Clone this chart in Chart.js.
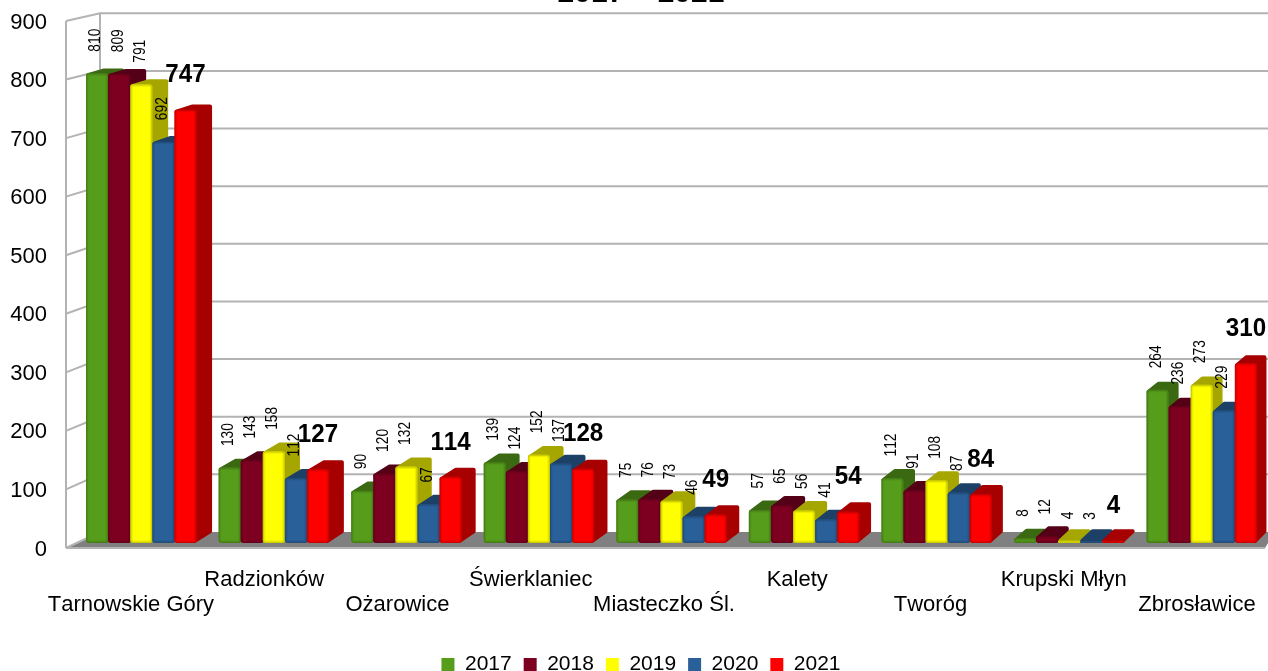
<!DOCTYPE html>
<html>
<head>
<meta charset="utf-8">
<style>html,body{margin:0;padding:0;background:#fff}canvas{display:block}</style>
<script src="https://cdn.jsdelivr.net/npm/chart.js@4"></script>
</head>
<body>
<canvas id="c" width="1268" height="671"></canvas>
<script>
const categories = ["Tarnowskie Góry","Radzionków","Ożarowice","Świerklaniec","Miasteczko Śl.","Kalety","Tworóg","Krupski Młyn","Zbrosławice"];
const years = ["2017","2018","2019","2020","2021"];
const values2017 = [810,130,90,139,75,57,112,8,264];
const values2018 = [809,143,120,124,76,65,91,12,236];
const values2019 = [791,158,132,152,73,56,108,4,273];
const values2020 = [692,112,67,137,46,41,87,3,229];
const values2021 = [747,127,114,128,49,54,84,4,310];
const yTickStep = 100;
const yTickMax = 900;
const chartTitle = "2017 – 2021";
const frontColors = ["#579d1c","#7e0021","#ffff00","#2a6099","#ff0000"];
const sideColors  = ["#3a6912","#540016","#a6a600","#1c4066","#a60000"];

const series = [values2017,values2018,values2019,values2020,values2021];
const FONT = '"Liberation Sans", Arial, sans-serif';
const GRID = "#b3b3b3";
const FLOOR = "#808080";

// perspective helpers: depth of the 3D box at a given screen position
const depthX = x => 16.1 - 0.0057 * (x - 100);
const riseY  = y => 4 + 0.0105 * y;

function clearOverhang(scale) {
  scale.paddingTop = scale.paddingBottom = scale.paddingLeft = scale.paddingRight = 0;
}

function drawWalls(chart) {
  const ctx = chart.ctx, s = chart.scales.yTicks;
  const wallL = 66, wallR = 100, right = chart.width;
  const frontY = v => s.getPixelForValue(v) - 1.5;
  const backY = v => frontY(v) - (16 - 8.3 * v / yTickMax);
  ctx.save();
  ctx.fillStyle = FLOOR;
  ctx.beginPath();
  ctx.moveTo(wallL, frontY(0));
  ctx.lineTo(wallR, backY(0));
  ctx.lineTo(right, backY(0));
  ctx.lineTo(right, frontY(0) - 5);
  ctx.lineTo(right - 3, frontY(0));
  ctx.closePath();
  ctx.fill();
  ctx.strokeStyle = GRID;
  ctx.lineWidth = 2;
  for (let v = 0; v <= yTickMax; v += yTickStep) {
    ctx.beginPath();
    ctx.moveTo(wallL, frontY(v));
    ctx.lineTo(wallR, backY(v));
    if (v > 0) ctx.lineTo(right, backY(v));
    ctx.stroke();
  }
  ctx.beginPath();
  ctx.moveTo(wallL, frontY(0));
  ctx.lineTo(wallL, frontY(yTickMax));
  ctx.moveTo(wallR, backY(0));
  ctx.lineTo(wallR, backY(yTickMax));
  ctx.moveTo(wallL, frontY(0));
  ctx.lineTo(right - 3, frontY(0));
  ctx.stroke();
  ctx.restore();
}

function drawSides(chart, meta) {
  const ctx = chart.ctx, side = sideColors[meta.index];
  ctx.save();
  ctx.fillStyle = side;
  ctx.strokeStyle = side;
  ctx.lineWidth = 4;
  ctx.lineJoin = "round";
  meta.data.forEach(el => {
    const l = el.x - el.width / 2 + 2, r = el.x + el.width / 2 - 2;
    const t = Math.min(el.y + 2, el.base - 2), b = el.base - 2;
    const dx = depthX(r), rT = riseY(t), rB = riseY(b);
    ctx.beginPath();
    ctx.moveTo(l, t);
    ctx.lineTo(l + dx, t - rT);
    ctx.lineTo(r + dx, t - rT);
    ctx.lineTo(r + dx, b - rB);
    ctx.lineTo(r, b);
    ctx.lineTo(r, t);
    ctx.closePath();
    ctx.fill();
    ctx.stroke();
  });
  ctx.restore();
}

function drawBevels(chart, meta) {
  const ctx = chart.ctx, side = sideColors[meta.index];
  meta.data.forEach(el => {
    const l = el.x - el.width / 2, t = el.y, w = el.width, h = el.base - el.y;
    ctx.save();
    ctx.beginPath();
    ctx.roundRect(l, t, w, h, Math.min(3, h / 2));
    ctx.clip();
    ctx.strokeStyle = side;
    ctx.globalAlpha = 0.2;
    ctx.lineWidth = 5;
    ctx.beginPath();
    ctx.roundRect(l, t, w, h, Math.min(3, h / 2));
    ctx.stroke();
    ctx.globalAlpha = 0.45;
    ctx.lineWidth = 2.5;
    ctx.stroke();
    ctx.restore();
  });
}

const box3d = {
  id: "box3d",
  afterLayout(chart) {
    // the legend and title sit a little right of the canvas centre
    [chart.legend, chart.titleBlock].forEach(b => { b.left += 7; b.right += 7; });
  },
  beforeDraw(chart) { chart.ctx.fontKerning = "none"; },
  beforeDatasetsDraw(chart) {
    drawWalls(chart);
    // left-to-right painting: each bar hides the side of its left neighbour
    const metas = chart.getSortedVisibleDatasetMetas().slice().sort((a, b) => a.index - b.index);
    metas.forEach(meta => {
      drawSides(chart, meta);
      meta.data.forEach(el => el.draw(chart.ctx));
      drawBevels(chart, meta);
    });
  },
  beforeDatasetDraw() { return false; },
  afterDatasetsDraw(chart) {
    const ctx = chart.ctx;
    ctx.save();
    ctx.fillStyle = "#000";
    chart.getSortedVisibleDatasetMetas().forEach(meta => {
      const idx = meta.index;
      meta.data.forEach((el, i) => {
        const val = series[idx][i];
        ctx.save();
        ctx.textBaseline = "middle";
        if (idx === 4) {
          ctx.translate(el.x, el.y - 34.5);
          ctx.scale(0.93, 1);
          ctx.font = "bold 26px " + FONT;
          ctx.textAlign = "center";
        } else {
          ctx.translate(el.x - 1.3, el.y - 21.5);
          ctx.rotate(-Math.PI / 2);
          ctx.scale(0.81, 1);
          ctx.font = "17px " + FONT;
          ctx.textAlign = "left";
        }
        ctx.fillText(String(val), 0, 0);
        ctx.restore();
      });
    });
    ctx.restore();
  }
};

new Chart(document.getElementById("c"), {
  type: "bar",
  data: {
    labels: categories,
    datasets: years.map((y, i) => ({
      label: y,
      data: series[i],
      backgroundColor: frontColors[i],
      borderWidth: 0,
      borderRadius: 3,
      borderSkipped: false,
      clip: false,
      xAxisID: "x",
      yAxisID: "y",
      barPercentage: 1,
      categoryPercentage: 0.8333
    }))
  },
  plugins: [box3d],
  options: {
    responsive: false,
    animation: false,
    layout: { autoPadding: false, padding: { left: 0, top: 22.5, right: 0, bottom: -14 } },
    scales: {
      x: { type: "category", display: false, offset: true },
      y: { type: "linear", display: false, bounds: "data", min: -11.25, max: 897.4 },
      xLabels: {
        type: "linear",
        position: "bottom",
        bounds: "data",
        offset: false,
        min: -0.42,
        max: 8.533,
        grid: { display: false, drawTicks: false },
        border: { display: false },
        afterBuildTicks(scale) {
          scale.ticks = categories.map((_, i) => ({ value: i }));
          scale.min = -0.42;
          scale.max = 8.533;
        },
        afterFit(scale) { scale.height = 92.5; clearOverhang(scale); },
        ticks: {
          autoSkip: false,
          maxRotation: 0,
          minRotation: 0,
          padding: 17.5,
          color: "#000",
          font: { family: FONT, size: 22, lineHeight: 25 / 22 },
          callback(v) {
            const name = categories[v];
            if (name === undefined) return "";
            return v % 2 ? [name, ""] : ["", name];
          }
        }
      },
      yTicks: {
        type: "linear",
        position: "left",
        min: 0,
        max: yTickMax,
        grid: { display: false, drawTicks: false },
        border: { display: false },
        afterFit(scale) { scale.width = 75; clearOverhang(scale); },
        ticks: {
          stepSize: yTickStep,
          padding: 28,
          color: "#000",
          font: { family: FONT, size: 22 }
        }
      }
    },
    plugins: {
      title: {
        display: true,
        text: chartTitle,
        color: "#000",
        font: { family: FONT, size: 30, weight: "bold", lineHeight: 1.2 },
        padding: { top: -46.5, bottom: 10.5 }
      },
      legend: {
        position: "bottom",
        labels: {
          boxWidth: 13,
          boxHeight: 13,
          padding: 12,
          color: "#000",
          font: { family: FONT, size: 21 }
        }
      },
      tooltip: { enabled: false }
    }
  }
});
</script>
</body>
</html>
